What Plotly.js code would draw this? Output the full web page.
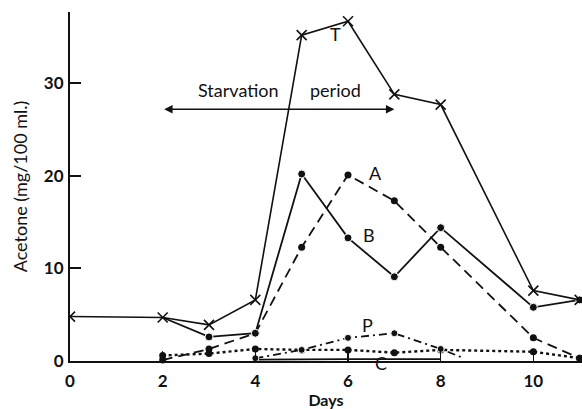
<!DOCTYPE html>
<html><head><meta charset="utf-8">
<script src="https://cdn.plot.ly/plotly-3.0.1.min.js"></script>
<style>html,body{margin:0;padding:0;background:#fff;}#chart{width:582px;height:409px;}</style>
</head><body><div id="chart"></div>
<script>
// Days and acetone values (mg/100 ml.)
const daysT = [0, 2, 3, 4, 5, 6, 7, 8, 10, 11];
const valuesT = [4.8, 4.7, 3.9, 6.6, 35.2, 36.7, 28.8, 27.7, 7.6, 6.6];
const daysB = [2, 3, 4, 5, 6, 7, 8, 10, 11];
const valuesB = [4.7, 2.6, 3.0, 20.2, 13.3, 9.1, 14.4, 5.8, 6.6];
const daysA = [2, 3, 4, 5, 6, 7, 8, 10, 11];
const valuesA = [0.1, 1.3, 3.0, 12.3, 20.1, 17.3, 12.3, 2.5, 0.3];
const daysP = [4, 5, 6, 7, 8, 8.5];
const valuesP = [0.3, 1.2, 2.5, 3.0, 1.3, 0.3];
const daysDot = [2, 3, 4, 5, 6, 7, 8, 10, 11];
const valuesDot = [0.6, 0.8, 1.3, 1.2, 1.2, 0.9, 1.2, 1.0, 0.3];
const daysC = [4, 5, 6, 7, 8];
const valuesC = [0.15, 0.2, 0.2, 0.2, 0.2];
const xTicks = [0, 2, 4, 6, 8, 10];
const yTicks = [0, 10, 20, 30];
const starvation = {start: 2, end: 7, level: 27.2, words: ['Starvation', 'period'], wordDays: [3.64, 5.72]};
const curveLabels = [
  {text: 'T', x: 5.72, y: 35.3},
  {text: 'A', x: 6.6, y: 20.3},
  {text: 'B', x: 6.45, y: 13.6},
  {text: 'P', x: 6.42, y: 3.9},
  {text: 'C', x: 6.72, y: 0}
];

const FONT = 'Lato, "Open Sans", sans-serif';
const ink = '#111';

const traces = [
  {x: daysDot, y: valuesDot, mode: 'lines+markers', cliponaxis: false,
   line: {color: ink, width: 2.4, dash: 'dot'},
   marker: {color: ink, size: 7, opacity: 1}},
  {x: daysC, y: valuesC, mode: 'lines', cliponaxis: false,
   line: {color: ink, width: 1.8}},
  {x: daysP, y: valuesP, mode: 'lines+markers', cliponaxis: false,
   line: {color: ink, width: 1.8, dash: '8px,4px,2px,4px'},
   marker: {color: ink, opacity: 1, size: daysP.map(d => Number.isInteger(d) ? 7 : 0)}},
  {x: daysA, y: valuesA, mode: 'lines+markers', cliponaxis: false,
   line: {color: ink, width: 1.8, dash: '10px,6px'},
   marker: {color: ink, size: 7, opacity: 1}},
  {x: daysB, y: valuesB, mode: 'lines+markers', cliponaxis: false,
   line: {color: ink, width: 1.8},
   marker: {color: ink, opacity: 1, size: daysB.map((d, i) => i === 0 ? 0 : 8)}},
  {x: daysT, y: valuesT, mode: 'lines+markers', cliponaxis: true,
   line: {color: ink, width: 1.6},
   marker: {symbol: 'x-thin-open', color: ink, size: 10, opacity: 1, line: {color: ink, width: 1.6}}}
];

const annotations = curveLabels.map(l => ({
  x: l.x, y: l.y, xref: 'x', yref: 'y', text: l.text, showarrow: false,
  yshift: l.y === 0 ? -2 : 0,
  font: {family: FONT, size: 18, color: ink}
}));
annotations.push({
  x: starvation.end, y: starvation.level, ax: starvation.start, ay: starvation.level,
  xref: 'x', yref: 'y', axref: 'x', ayref: 'y', text: '', showarrow: true,
  arrowside: 'end+start', arrowhead: 2, arrowsize: 1.2, arrowwidth: 1.4, arrowcolor: ink
});
starvation.words.forEach((w, i) => annotations.push({
  x: starvation.wordDays[i], y: starvation.level + 2.1, xref: 'x', yref: 'y',
  text: w, showarrow: false, font: {family: FONT, size: 18, color: ink}
}));

const layout = {
  width: 582, height: 409,
  margin: {l: 70, r: 0, t: 12, b: 48},
  paper_bgcolor: '#fff', plot_bgcolor: '#fff',
  showlegend: false,
  font: {family: FONT, color: ink},
  xaxis: {
    range: [0, 11.05], tickvals: xTicks, ticktext: xTicks.map(String),
    showgrid: false, zeroline: false, showline: true, linecolor: ink, linewidth: 2,
    ticks: 'inside', ticklen: 10, tickwidth: 1.5, tickcolor: ink, ticklabelstandoff: 4,
    tickfont: {family: FONT, size: 17, weight: 'bold', color: ink},
    title: {text: 'Days', font: {family: FONT, size: 16, weight: 'bold', color: ink}, standoff: 0}
  },
  yaxis: {
    range: [0, 37.7], tickvals: yTicks, ticktext: yTicks.map(String),
    showgrid: false, zeroline: false, showline: true, linecolor: ink, linewidth: 2,
    ticks: 'inside', ticklen: 11, tickwidth: 2, tickcolor: ink, ticklabelstandoff: 1,
    tickfont: {family: FONT, size: 17, weight: 'bold', color: ink},
    title: {text: 'Acetone (mg/100 ml.)', font: {family: FONT, size: 18, color: ink}, standoff: 12}
  },
  annotations: annotations
};

Plotly.newPlot('chart', traces, layout, {staticPlot: true, displayModeBar: false});
</script></body></html>
